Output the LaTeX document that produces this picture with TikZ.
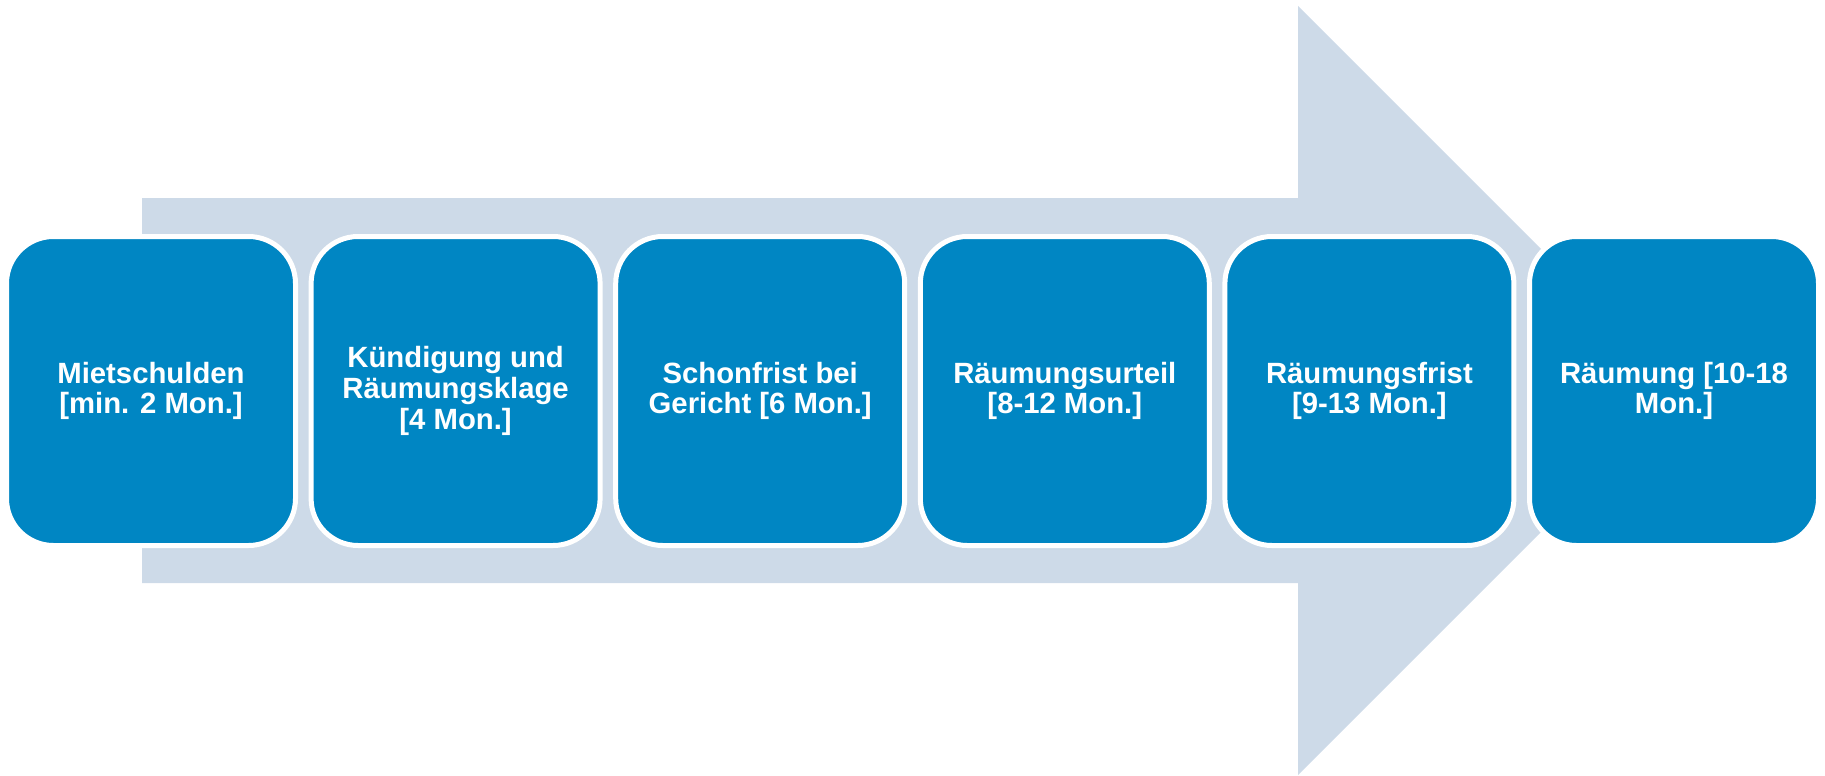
\documentclass[tikz,border=0pt]{standalone}
\usepackage{fontspec}
\setmainfont{Liberation Sans}
\definecolor{boxblue}{RGB}{0,134,195}
\definecolor{arrowgray}{RGB}{205,218,232}
\begin{document}
\begin{tikzpicture}[x=1pt,y=-1pt,
  stepbox/.style={draw=white, line width=5pt, fill=boxblue, rounded corners=47pt,
    minimum width=289pt, minimum height=309pt, inner sep=0pt, align=center,
    text=white, font=\fontsize{29.3}{30.7}\selectfont\bfseries}]
\useasboundingbox (0,0) rectangle (1825,776);
\fill[arrowgray] (142,198) -- (1298,198) -- (1298,6) -- (1682.5,390.5) -- (1298,775) -- (1298,583) -- (142,583) -- cycle;
\node[stepbox] (b1) at (151,391) {Mietschulden\\{[}min. 2 Mon.{]}};
\node[stepbox] (b2) at (455.6,391) {Kündigung und\\Räumungsklage\\{[}4 Mon.{]}};
\node[stepbox] (b3) at (760.2,391) {Schonfrist bei\\Gericht {[}6 Mon.{]}};
\node[stepbox] (b4) at (1064.8,391) {Räumungsurteil\\{[}8-12 Mon.{]}};
\node[stepbox] (b5) at (1369.4,391) {Räumungsfrist\\{[}9-13 Mon.{]}};
\node[stepbox] (b6) at (1674,391) {Räumung {[}10-18\\Mon.{]}};
\end{tikzpicture}
\end{document}
